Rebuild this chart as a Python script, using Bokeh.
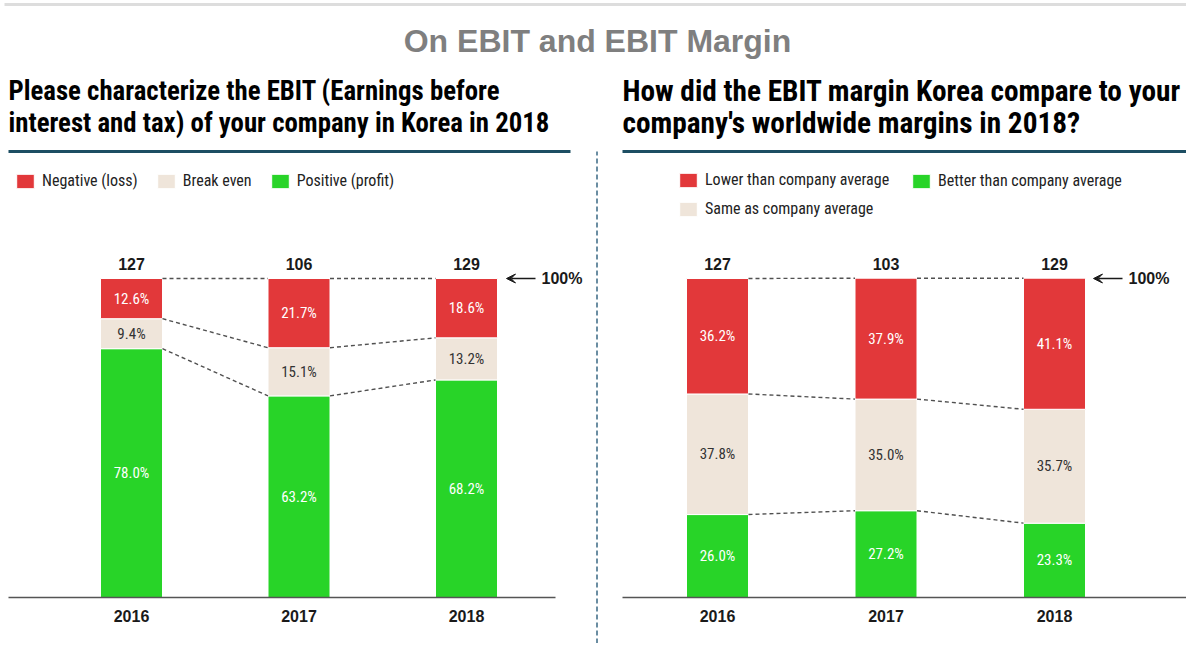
import numpy as np
from bokeh.plotting import figure
from bokeh.models import (ColumnDataSource, Range1d, FixedTicker, Legend, LegendItem,
                          Arrow, VeeHead)
from bokeh.layouts import column, row
from bokeh.embed import file_html
from bokeh.resources import INLINE
from bokeh.core.properties import value

# ---------------- data ----------------
main_title = "On EBIT and EBIT Margin"
years = ["2016", "2017", "2018"]

ebit_title = ["Please characterize the EBIT (Earnings before",
              "interest and tax) of your company in Korea in 2018"]
ebit_n = [127, 106, 129]
ebit_negative = [12.6, 21.7, 18.6]
ebit_break_even = [9.4, 15.1, 13.2]
ebit_positive = [78.0, 63.2, 68.2]
ebit_labels = ["Negative (loss)", "Break even", "Positive (profit)"]

margin_title = ["How did the EBIT margin Korea compare to your",
                "company's worldwide margins in 2018?"]
margin_n = [127, 103, 129]
margin_lower = [36.2, 37.9, 41.1]
margin_same = [37.8, 35.0, 35.7]
margin_better = [26.0, 27.2, 23.3]
margin_labels = ["Lower than company average", "Same as company average",
                 "Better than company average"]

# ---------------- style ----------------
RED = "#e2383a"
BEIGE = "#efe5da"
GREEN = "#28d428"
NARROW = "Roboto Condensed"
SANS = "Liberation Sans"
DARK = "#1a1a1a"

HEAD_H = 68
FIG_H = 575
BASE_Y = 597                      # page y of the bar baseline
BOTTOM = HEAD_H + FIG_H - BASE_Y  # space below the frame for the axis
FRAME_H = FIG_H - BOTTOM
PX_Y = 3.19                       # pixels per percentage point
BAR_PX = 62


def legend(items, loc, spacing, orientation):
    return Legend(items=items, location=loc, orientation=orientation,
                  glyph_width=22, glyph_height=18, label_height=18,
                  label_standoff=6, spacing=spacing, padding=0, margin=0,
                  border_line_color=None, background_fill_alpha=0,
                  label_text_font=NARROW, label_text_font_size="16px",
                  label_text_color="#222222")


def chart(width, first_center, step, axis_from, axis_to, title_fx, ul_to,
          title_lines, title_size, n, top, mid, bottom, labels, legend_spec,
          arrow_head, arrow_tail, pct_fx):
    x_start = -first_center / step
    x_end = x_start + width / step

    def X(fx):
        return x_start + fx / step

    def Y(page_y):
        return (BASE_Y - page_y) / PX_Y

    p = figure(width=width, height=FIG_H, x_range=Range1d(x_start, x_end),
               y_range=Range1d(0, FRAME_H / PX_Y), output_backend="svg",
               toolbar_location=None, y_axis_location=None, title=None,
               min_border_left=0, min_border_right=0, min_border_top=0,
               min_border_bottom=BOTTOM)
    p.outline_line_color = None
    p.grid.visible = False

    xs = list(range(len(years)))
    bw = BAR_PX / step
    src = ColumnDataSource(dict(x=xs, bottom=bottom, mid=mid, top=top))
    rs = p.vbar_stack(["bottom", "mid", "top"], x="x", width=bw, source=src,
                      fill_color=[GREEN, BEIGE, RED], line_color="white",
                      line_width=1)

    # segment labels
    vals = np.array([bottom, mid, top], dtype=float)
    cum = np.cumsum(vals, axis=0)
    centers = cum - vals / 2
    tcolors = ["white", "#333333", "white"]
    for k in range(3):
        p.text(x=xs, y=list(centers[k]), text=[f"{v:.1f}%" for v in vals[k]],
               text_align="center", text_baseline="middle",
               text_font=value(NARROW), text_font_size="15px",
               text_color=tcolors[k])

    # dashed connectors between bars at the segment boundaries
    x0s, x1s, y0s, y1s = [], [], [], []
    for lvl in (cum[0], cum[1], cum[2]):
        for i in range(len(xs) - 1):
            x0s.append(xs[i] + bw / 2)
            x1s.append(xs[i + 1] - bw / 2)
            y0s.append(lvl[i])
            y1s.append(lvl[i + 1])
    p.segment(x0=x0s, y0=y0s, x1=x1s, y1=y1s, line_color="#505050",
              line_width=1.4, line_dash="4 3")

    # respondent counts above the bars
    p.text(x=xs, y=[100 + 14.5 / PX_Y] * 3, text=[str(v) for v in n],
           text_align="center", text_baseline="middle",
           text_font=value(SANS), text_font_style="bold",
           text_font_size="16px", text_color=DARK)

    # 100% arrow
    p.add_layout(Arrow(end=VeeHead(size=9, line_color=DARK, fill_color=DARK,
                                   line_width=1),
                       x_start=X(arrow_tail), y_start=100, x_end=X(arrow_head),
                       y_end=100, line_color=DARK, line_width=1.5))
    p.text(x=[X(pct_fx)], y=[100], text=["100%"], text_align="left",
           text_baseline="middle", text_font=value(SANS),
           text_font_style="bold", text_font_size="16px", text_color=DARK)

    # question title + underline
    for j, line in enumerate(title_lines):
        p.text(x=[X(title_fx)], y=[Y(90 + 32 * j)], text=[line],
               text_align="left", text_baseline="middle",
               text_font=value(NARROW), text_font_style="bold",
               text_font_size=title_size, text_color="black")
    p.segment(x0=[X(title_fx)], x1=[X(ul_to)], y0=[Y(151)], y1=[Y(151)],
              line_color="#1d4e63", line_width=3)

    # legends
    for order, loc, spacing, orient in legend_spec:
        items = [LegendItem(label=labels[k], renderers=[rs[2 - k]])
                 for k in order]
        p.add_layout(legend(items, loc, spacing, orient))

    # year axis
    ax = p.xaxis[0]
    ax.ticker = FixedTicker(ticks=xs)
    ax.major_label_overrides = {i: y for i, y in enumerate(years)}
    ax.bounds = (X(axis_from), X(axis_to))
    ax.major_tick_line_color = None
    ax.minor_tick_line_color = None
    ax.axis_line_color = "#555555"
    ax.axis_line_width = 1.5
    ax.major_label_standoff = 6
    ax.major_label_text_font = SANS
    ax.major_label_text_font_style = "bold"
    ax.major_label_text_font_size = "16px"
    ax.major_label_text_color = DARK
    return p


# left chart occupies page x 0..595
left = chart(595, 131, 167.5, 8, 555, 8, 570, ebit_title, "26.8px", ebit_n,
             ebit_negative, ebit_break_even, ebit_positive, ebit_labels,
             [([0, 1, 2], (14, BASE_Y - 190), 17, "horizontal")],
             506, 535, 541)

# dashed vertical separator occupies page x 595..598
SEP_W = 3
sep = figure(width=SEP_W, height=FIG_H, x_range=Range1d(0, SEP_W),
             y_range=Range1d(0, FIG_H), output_backend="svg",
             toolbar_location=None, x_axis_location=None,
             y_axis_location=None, title=None, min_border=0)
sep.outline_line_color = None
sep.grid.visible = False
sep.segment(x0=[1.5], x1=[1.5], y0=[0], y1=[FIG_H - (151 - HEAD_H)],
            line_color="#5a8198", line_width=1.8, line_dash="5 3")

# right chart occupies page x 598..1186
RX = 595 + SEP_W
right = chart(1186 - RX, 717 - RX, 168.5, 622 - RX, 1186 - RX, 622 - RX,
              1186 - RX, margin_title, "29.3px", margin_n, margin_lower,
              margin_same, margin_better, margin_labels,
              [([0, 1], (677 - RX, BASE_Y - 218), 10, "vertical"),
               ([2], (910 - RX, BASE_Y - 190), 10, "horizontal")],
              1093 - RX, 1122 - RX, 1128 - RX)

# header
W = 1186
head = figure(width=W, height=HEAD_H, x_range=Range1d(0, W),
              y_range=Range1d(0, HEAD_H), output_backend="svg",
              toolbar_location=None, x_axis_location=None,
              y_axis_location=None, title=None, min_border=0)
head.outline_line_color = None
head.grid.visible = False
head.segment(x0=[4], x1=[W], y0=[HEAD_H - 4], y1=[HEAD_H - 4],
             line_color="#dddddd", line_width=3)
head.text(x=[597], y=[HEAD_H - 40], text=[main_title], text_align="center",
          text_baseline="middle", text_font=value(SANS),
          text_font_style="bold", text_font_size="32px", text_color="#7f7f7f")

layout = column(head, row(left, column(sep), right))
open("out.html", "w").write(file_html(layout, INLINE))
